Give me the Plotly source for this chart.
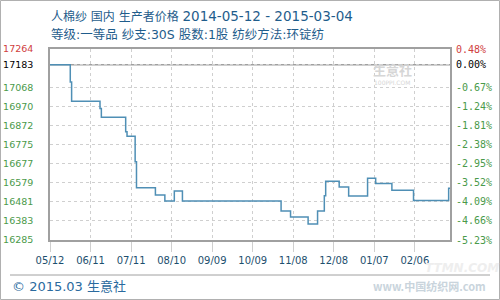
import plotly.graph_objects as go

# ---- data ----
dates = ["2014-05-12", "2014-05-27", "2014-05-28", "2014-06-18", "2014-06-19",
         "2014-07-07", "2014-07-08", "2014-07-14", "2014-07-15", "2014-07-29",
         "2014-08-05", "2014-08-12", "2014-08-18", "2014-10-30", "2014-11-06",
         "2014-11-19", "2014-11-26", "2014-12-01", "2014-12-02", "2014-12-12",
         "2014-12-19", "2015-01-02", "2015-01-08", "2015-01-20", "2015-02-05",
         "2015-03-03", "2015-03-04"]
prices = [17183, 17095, 16996, 16959, 16914,
          16840, 16817, 16686, 16553, 16516,
          16485, 16536, 16485, 16434, 16403,
          16367, 16434, 16512, 16586, 16557,
          16511, 16601, 16574, 16540, 16488,
          16550, 16550]

y_ticks = [16285, 16383, 16481, 16579, 16677, 16775, 16872, 16970, 17068, 17183, 17264]
y_labels = ["16285", "16383", "16481", "16579", "16677", "16775", "16872", "16970", "17068",
            "<span style='color:#000000'>17183</span>",
            "<span style='color:#d04040'>17264</span>"]
pct_labels = ["-5.23%", "-4.66%", "-4.09%", "-3.52%", "-2.95%", "-2.38%", "-1.81%", "-1.24%", "-0.67%",
              "<span style='color:#000000'>0.00%</span>",
              "<span style='color:#d04040'>0.48%</span>"]
x_ticks = ["2014-05-12", "2014-06-11", "2014-07-11", "2014-08-10", "2014-09-09",
           "2014-10-09", "2014-11-08", "2014-12-08", "2015-01-07", "2015-02-06"]
x_labels = ["05/12", "06/11", "07/11", "08/10", "09/09", "10/09", "11/08", "12/08", "01/07", "02/06"]
base_price = 17183
title_name = "人棉纱 国内 生产者价格"
title_dates = "2014-05-12 - 2015-03-04"
title2 = "等级:一等品 纱支:30S 股数:1股 纺纱方法:环锭纺"
footer = "© 2015.03 生意社"

W, H = 500, 300
L, R, T, B = 50, 50, 49, 60
pw, ph = W - L - R, H - T - B


def px(x):
    return (x - L) / pw


def py(y):
    return (H - B - y) / ph


fig = go.Figure()
fig.add_trace(go.Scatter(x=dates, y=prices, mode="lines", line_shape="hv",
                         line=dict(color="#4f8fb5", width=1.5),
                         showlegend=False, hoverinfo="skip"))
fig.add_trace(go.Scatter(x=[dates[0]], y=[prices[0]], yaxis="y2", mode="markers",
                         marker=dict(opacity=0), showlegend=False, hoverinfo="skip"))

grid = "#cfcfcf"
mixfont = "DejaVu Sans, Noto Sans CJK SC"
fig.update_layout(
    width=W, height=H,
    margin=dict(l=L, r=R, t=T, b=B, pad=0, autoexpand=False),
    paper_bgcolor="white", plot_bgcolor="white",
    xaxis=dict(type="date", range=["2014-05-12", "2015-03-04"],
               tickvals=x_ticks, ticktext=x_labels, automargin=False,
               tickfont=dict(family="DejaVu Sans", size=10, color="#1d4f6e"),
               showgrid=True, gridcolor=grid, griddash="3px,3px", gridwidth=1,
               ticks="outside", ticklen=10, tickcolor=grid, tickwidth=1,
               showline=True, linecolor="#a0a0a0", linewidth=1.5, mirror=True,
               zeroline=False, fixedrange=True),
    yaxis=dict(range=[16285, 17264], tickvals=y_ticks, ticktext=y_labels, automargin=False,
               tickfont=dict(family="DejaVu Sans", size=9.5, color="#4a9a4a"),
               showgrid=True, gridcolor=grid, griddash="3px,3px", gridwidth=1,
               ticks="", ticklabelstandoff=13,
               showline=True, linecolor="#a0a0a0", linewidth=1.5, mirror=True,
               zeroline=False, fixedrange=True),
    yaxis2=dict(range=[16285, 17264], overlaying="y", side="right", automargin=False,
                tickvals=y_ticks, ticktext=pct_labels,
                tickfont=dict(family="DejaVu Sans Mono", size=10, color="#4a9a4a"),
                showgrid=False, ticks="", ticklabelstandoff=5,
                zeroline=False, showline=False, fixedrange=True),
    shapes=[
        dict(type="line", xref="paper", yref="y", x0=0, x1=1, y0=base_price, y1=base_price,
             line=dict(color="#a0a0a0", width=1.5), layer="below"),
        dict(type="line", xref="paper", yref="paper", x0=px(10), x1=px(490), y0=py(275), y1=py(275),
             line=dict(color="#a0a0a0", width=1)),
        dict(type="rect", xref="paper", yref="paper", x0=px(0.5), x1=px(499.5), y0=py(299.5), y1=py(0.5),
             line=dict(color="#b0b0b0", width=1)),
    ],
    annotations=[
        dict(xref="paper", yref="paper", x=px(49), y=py(16), xanchor="left", yanchor="middle",
             text=f"{title_name} <span style='font-size:13.5px'>{title_dates}</span>", showarrow=False,
             font=dict(family=mixfont, size=12, color="#1f5d8c")),
        dict(xref="paper", yref="paper", x=px(49), y=py(34), xanchor="left", yanchor="middle",
             text=title2, showarrow=False,
             font=dict(family=mixfont, size=12.5, color="#1f5d8c")),
        dict(xref="paper", yref="paper", x=px(10), y=py(286), xanchor="left", yanchor="middle",
             text=footer, showarrow=False,
             font=dict(family=mixfont, size=13, color="#2a6a9e")),
        dict(xref="paper", yref="paper", x=px(392), y=py(70), xanchor="center", yanchor="middle",
             text="<b>生意社</b>", showarrow=False,
             font=dict(family="Noto Sans CJK SC", size=13, color="#d6d6d6")),
        dict(xref="paper", yref="paper", x=px(392), y=py(82), xanchor="center", yanchor="middle",
             text="100PPI.COM", showarrow=False,
             font=dict(family="DejaVu Sans", size=6, color="#d6d6d6")),
        dict(xref="paper", yref="paper", x=px(462), y=py(268), xanchor="center", yanchor="middle",
             text="<b><i>TTMN.COM</i></b>", showarrow=False,
             font=dict(family="DejaVu Sans", size=12, color="#eeeeee")),
        dict(xref="paper", yref="paper", x=px(488), y=py(286), xanchor="right", yanchor="middle",
             text="<b>www.中国纺织网.com</b>", showarrow=False,
             font=dict(family="Noto Sans CJK SC", size=11, color="#c9d4dc")),
    ],
)

fig.write_html("out.html")
